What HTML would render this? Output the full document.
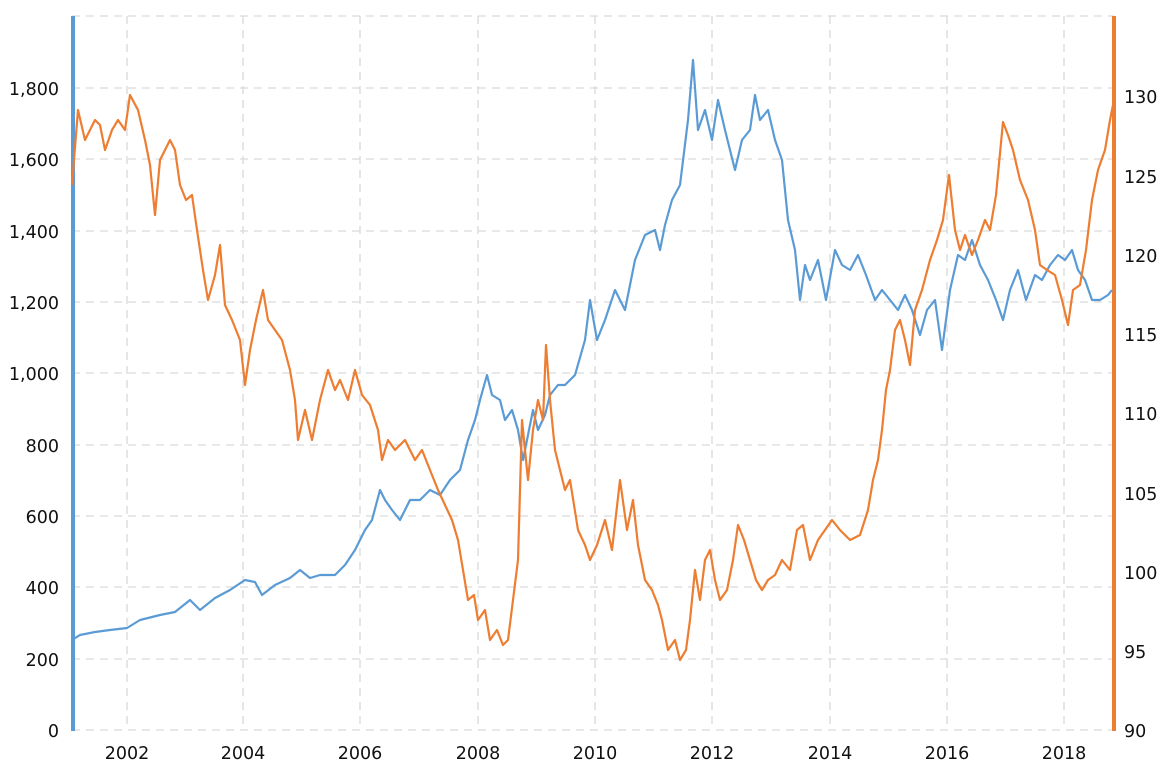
<!DOCTYPE html>
<html><head><meta charset="utf-8"><style>
html,body{margin:0;padding:0;background:#fff;}
svg{display:block;}
text{font-family:"DejaVu Sans","Liberation Sans",sans-serif;font-size:17.5px;fill:#111;}
</style></head><body>
<svg width="1170" height="767" viewBox="0 0 1170 767">
<g stroke="#d9d9d9" stroke-width="1.3" stroke-dasharray="8,6" fill="none">
<line x1="72" y1="16" x2="1114" y2="16"/>
<line x1="72" y1="88" x2="1114" y2="88"/>
<line x1="72" y1="159" x2="1114" y2="159"/>
<line x1="72" y1="231" x2="1114" y2="231"/>
<line x1="72" y1="302" x2="1114" y2="302"/>
<line x1="72" y1="373" x2="1114" y2="373"/>
<line x1="72" y1="445" x2="1114" y2="445"/>
<line x1="72" y1="516" x2="1114" y2="516"/>
<line x1="72" y1="587" x2="1114" y2="587"/>
<line x1="72" y1="659" x2="1114" y2="659"/>
<line x1="72" y1="730" x2="1114" y2="730"/>
<line x1="127" y1="16" x2="127" y2="730"/>
<line x1="243" y1="16" x2="243" y2="730"/>
<line x1="360" y1="16" x2="360" y2="730"/>
<line x1="478" y1="16" x2="478" y2="730"/>
<line x1="595" y1="16" x2="595" y2="730"/>
<line x1="712" y1="16" x2="712" y2="730"/>
<line x1="830" y1="16" x2="830" y2="730"/>
<line x1="947" y1="16" x2="947" y2="730"/>
<line x1="1064" y1="16" x2="1064" y2="730"/>
</g>
<line x1="73" y1="16" x2="73" y2="731" stroke="#5b9bd5" stroke-width="4"/>
<line x1="1114" y1="16" x2="1114" y2="731" stroke="#ed7d31" stroke-width="4"/>
<polyline fill="none" stroke="#5b9bd5" stroke-width="2.2" stroke-linejoin="round" points="72,640 80,635 95,632 110,630 127,628 140,620 160,615 175,612 190,600 200,610 215,598 230,590 245,580 255,582 262,595 275,585 290,578 300,570 310,578 320,575 335,575 345,565 355,550 365,530 372,520 380,490 385,500 392,510 400,520 410,500 420,500 430,490 440,495 450,480 460,470 468,440 475,420 480,400 487,375 492,395 500,400 505,420 512,410 518,430 523,460 527,440 533,410 538,430 545,415 550,395 558,385 565,385 575,375 585,340 590,300 597,340 605,320 615,290 625,310 635,260 645,235 655,230 660,250 665,225 672,200 680,185 688,120 693,60 698,130 705,110 712,140 718,100 725,130 735,170 742,140 750,130 755,95 760,120 768,110 775,140 782,160 788,220 795,250 800,300 805,265 810,280 818,260 826,300 835,250 842,265 850,270 858,255 866,275 875,300 882,290 890,300 898,310 905,295 912,310 920,335 927,310 935,300 942,350 950,290 958,255 965,260 972,240 980,265 988,280 996,300 1003,320 1010,290 1018,270 1026,300 1035,275 1042,280 1050,265 1058,255 1065,260 1072,250 1078,270 1085,280 1092,300 1100,300 1108,295 1112,290"/>
<polyline fill="none" stroke="#ed7d31" stroke-width="2.2" stroke-linejoin="round" points="72,185 78,110 85,140 95,120 100,125 105,150 112,130 118,120 125,130 130,95 138,110 145,140 150,165 155,215 160,160 170,140 175,150 180,185 186,200 192,195 197,230 203,270 208,300 215,275 220,245 225,305 232,320 240,340 245,385 250,350 256,320 263,290 268,320 275,330 282,340 290,370 295,400 298,440 305,410 312,440 320,400 328,370 335,390 340,380 348,400 355,370 362,395 370,405 378,430 382,460 388,440 395,450 405,440 415,460 422,450 430,470 438,490 445,505 452,520 458,540 463,570 468,600 474,595 478,620 485,610 490,640 497,630 503,645 508,640 513,600 518,560 522,420 528,480 533,430 538,400 543,420 546,345 550,400 555,450 560,470 565,490 570,480 578,530 585,545 590,560 597,545 605,520 612,550 620,480 627,530 633,500 638,545 645,580 652,590 658,605 662,620 668,650 675,640 680,660 686,650 690,620 695,570 700,600 705,560 710,550 715,580 720,600 727,590 733,560 738,525 744,540 750,560 756,580 762,590 768,580 775,575 782,560 790,570 797,530 803,525 810,560 818,540 825,530 832,520 840,530 850,540 860,535 868,510 873,480 878,460 882,430 886,390 890,370 895,330 900,320 905,340 910,365 915,310 922,290 930,260 937,240 943,220 949,175 955,230 960,250 965,235 972,255 978,240 985,220 990,230 996,195 1003,122 1008,135 1013,150 1020,180 1028,200 1035,230 1040,265 1047,270 1055,275 1062,300 1068,325 1073,290 1080,285 1086,250 1092,200 1098,170 1105,150 1110,120 1113,105"/>
<g text-anchor="end">
<text x="59" y="737">0</text>
<text x="59" y="666">200</text>
<text x="59" y="594">400</text>
<text x="59" y="523">600</text>
<text x="59" y="452">800</text>
<text x="59" y="380">1,000</text>
<text x="59" y="309">1,200</text>
<text x="59" y="238">1,400</text>
<text x="59" y="166">1,600</text>
<text x="59" y="95">1,800</text>
</g>
<g text-anchor="start">
<text x="1124" y="737">90</text>
<text x="1124" y="658">95</text>
<text x="1124" y="579">100</text>
<text x="1124" y="500">105</text>
<text x="1124" y="420">110</text>
<text x="1124" y="341">115</text>
<text x="1124" y="262">120</text>
<text x="1124" y="183">125</text>
<text x="1124" y="103">130</text>
</g>
<g text-anchor="middle">
<text x="127" y="759">2002</text>
<text x="243" y="759">2004</text>
<text x="360" y="759">2006</text>
<text x="478" y="759">2008</text>
<text x="595" y="759">2010</text>
<text x="712" y="759">2012</text>
<text x="830" y="759">2014</text>
<text x="947" y="759">2016</text>
<text x="1064" y="759">2018</text>
</g>
</svg>
</body></html>
